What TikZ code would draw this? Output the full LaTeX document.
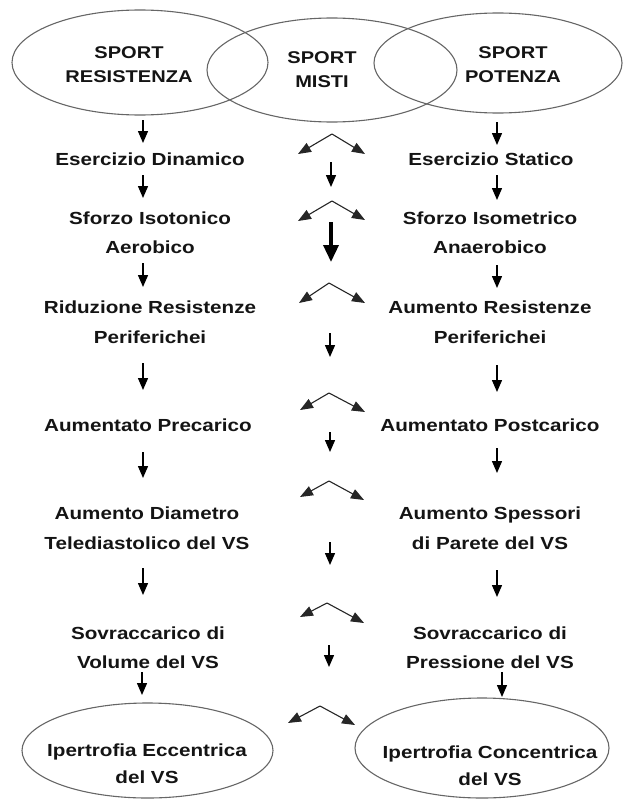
\documentclass[tikz,border=0pt]{standalone}
\usepackage{fontspec}
\setmainfont{Liberation Sans}[FakeStretch=1.18]
\usetikzlibrary{arrows.meta,shapes.geometric}
\begin{document}
\begin{tikzpicture}[x=1pt,y=-1pt,
  txt/.style={font=\fontsize{17.5}{29.5}\selectfont\bfseries, text=black!92, align=center, inner sep=0pt},
  toptxt/.style={txt, font=\fontsize{17}{24}\selectfont\bfseries},
  bottxt/.style={txt, font=\fontsize{17.5}{26.5}\selectfont\bfseries},
  oval/.style={ellipse, draw=black!60, line width=1.1pt, inner sep=0pt, outer sep=0pt},
  arr/.style={draw=black, line width=1.4pt, -{Triangle[width=10pt,length=12pt]}},
  bigarr/.style={draw=black, line width=3.5pt, -{Triangle[width=15pt,length=17pt]}},
  caret/.style={draw=black!85, line width=1.1pt, -{Triangle[width=10pt,length=13pt]}}
]
\useasboundingbox (0,0) rectangle (624,800);

% top ellipses
\node[oval, minimum width=256pt, minimum height=105pt] (res) at (140,62.5) {};
\node[oval, minimum width=250pt, minimum height=104pt] (mis) at (332,70) {};
\node[oval, minimum width=248pt, minimum height=100pt] (pot) at (498,63) {};
\node[toptxt] (rest) at (129,65) {SPORT\\RESISTENZA};
\node[toptxt] (mist) at (322,70) {SPORT\\MISTI};
\node[toptxt] (pott) at (513,64.5) {SPORT\\POTENZA};

% left column
\node[txt] (l1) at (150,159) {Esercizio Dinamico};
\node[txt] (l2) at (150,232.5) {Sforzo Isotonico\\Aerobico};
\node[txt] (l3) at (150,322) {Riduzione Resistenze\\Periferichei};
\node[txt] (l4) at (148,425) {Aumentato Precarico};
\node[txt] (l5) at (147,528) {Aumento Diametro\\Telediastolico del VS};
\node[txt] (l6) at (148,647.5) {Sovraccarico di\\Volume del VS};

% right column
\node[txt] (r1) at (491,159) {Esercizio Statico};
\node[txt] (r2) at (490,232.5) {Sforzo Isometrico\\Anaerobico};
\node[txt] (r3) at (490,322) {Aumento Resistenze\\Periferichei};
\node[txt] (r4) at (490,425) {Aumentato Postcarico};
\node[txt] (r5) at (490,528) {Aumento Spessori\\di Parete del VS};
\node[txt] (r6) at (490,647.5) {Sovraccarico di\\Pressione del VS};

% bottom ellipses
\node[oval, minimum width=251pt, minimum height=95pt] (ecc) at (147.5,750.5) {};
\node[oval, minimum width=254pt, minimum height=100pt] (con) at (482,748) {};
\node[bottxt] (ecct) at (147,763.5) {Ipertrofia Eccentrica\\del VS};
\node[bottxt] (cont) at (490,765.5) {Ipertrofia Concentrica\\del VS};

% left arrows
\draw[arr] (143,120) -- (143,143);
\draw[arr] (143,175) -- (143,198);
\draw[arr] (143,263) -- (143,287);
\draw[arr] (143,363) -- (143,390);
\draw[arr] (143,452) -- (143,478);
\draw[arr] (143,568) -- (143,595);
\draw[arr] (142,672) -- (142,695);

% right arrows
\draw[arr] (497,122) -- (497,145);
\draw[arr] (497,175) -- (497,200);
\draw[arr] (497,265) -- (497,288);
\draw[arr] (497,365) -- (497,392);
\draw[arr] (497,448) -- (497,473);
\draw[arr] (497,570) -- (497,597);
\draw[arr] (502,672) -- (502,697);

% middle arrows
\draw[arr] (331,162) -- (331,187);
\draw[bigarr] (331,222) -- (331,262);
\draw[arr] (330,333) -- (330,357);
\draw[arr] (330,432) -- (330,452);
\draw[arr] (330,542) -- (330,565);
\draw[arr] (329,645) -- (329,667);

% carets
\foreach \ax/\ay/\lx/\ly/\rx/\ry [count=\i] in {
  332/134/298/154/365/154,
  332/201/298/221/365/220,
  329/283/299/303/365/303,
  329/393/300/410/365/412,
  329/481/300/497/364/500,
  327/603/300/617/364/623,
  320/706/288/723/355/725}{
  \coordinate (c\i) at (\ax,\ay);
  \draw[caret] (c\i) -- (\lx,\ly);
  \draw[caret] (c\i) -- (\rx,\ry);
}
\end{tikzpicture}
\end{document}
